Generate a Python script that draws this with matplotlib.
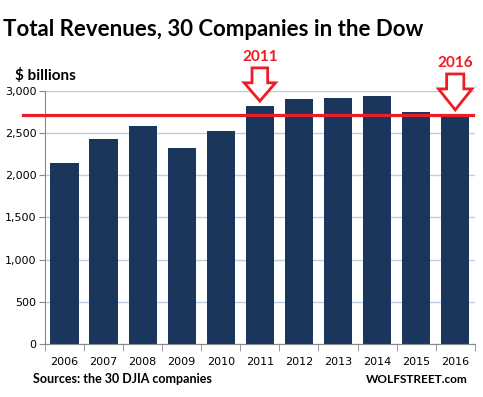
import matplotlib
matplotlib.use("Agg")
from matplotlib import pyplot as plt
from matplotlib.patches import Polygon
import matplotlib.transforms as mtransforms

years = ['2006', '2007', '2008', '2009', '2010', '2011', '2012', '2013', '2014', '2015', '2016']
revenues = [2147, 2425, 2585, 2325, 2527, 2820, 2905, 2918, 2942, 2752, 2700]
level_2016 = 2710
marked = ['2011', '2016']

bar_color = '#1b365d'
red = '#ee1c25'
plt.rcParams['font.family'] = ['Lato', 'DejaVu Sans']

fig = plt.figure(figsize=(4.83, 3.97), dpi=100)
ax = fig.add_axes([0.093, 0.1335, 0.89, 0.6375])

x = list(range(len(years)))
ax.bar(x, revenues, width=0.72, color=bar_color, zorder=2)
ax.set_xlim(-0.5, len(years) - 0.5)
ax.set_ylim(0, 3000)
ax.set_yticks(range(0, 3001, 500))
ax.set_yticklabels([f'{v:,}' for v in range(0, 3001, 500)], fontsize=8, family='DejaVu Sans')
ax.set_xticks(x)
ax.set_xticklabels(years, fontsize=8, family='DejaVu Sans')
ax.set_xticks([i + 0.5 for i in range(-1, len(years))], minor=True)
ax.tick_params(axis='x', which='major', length=0, pad=9)
ax.tick_params(axis='x', which='minor', length=5, color='#888888')
ax.tick_params(axis='y', length=4, color='#888888', pad=2)
ax.yaxis.grid(True, color='#b9cde5', lw=1, zorder=0)
for s in ['top', 'right']:
    ax.spines[s].set_visible(False)
ax.spines['left'].set_color('#888888')
ax.spines['bottom'].set_color('#888888')

# red level line, sticks out past the y axis
ax.plot([-1.06, 10.45], [level_2016, level_2016], color=red, lw=2.3, clip_on=False, zorder=4)

# hollow arrows over 2011 and 2016
trans = mtransforms.blended_transform_factory(ax.transData, ax.transAxes)
arrows = {'2011': (0.960, 1.032, 1.091, 0.20, 0.40, 1.134),
          '2016': (0.925, 1.008, 1.067, 0.22, 0.43, 1.110)}
for yr in marked:
    tip, neck, top, sw, hw, ty = arrows[yr]
    cx = years.index(yr)
    pts = [(cx, tip), (cx - hw, neck), (cx - sw, neck), (cx - sw, top),
           (cx + sw, top), (cx + sw, neck), (cx + hw, neck)]
    ax.add_patch(Polygon(pts, closed=True, transform=trans, facecolor='white',
                         edgecolor=red, lw=2, clip_on=False, zorder=5))
    ax.text(cx, ty, yr, transform=trans, color=red, fontsize=11, fontweight='bold',
            ha='center', va='center')

fig.text(0.006, 0.925, 'Total Revenues, 30 Companies in the Dow', fontsize=16,
         fontweight='bold', ha='left', va='center')
fig.text(0.031, 0.811, '$ billions', fontsize=11, fontweight='bold', ha='left', va='center')
fig.text(0.068, 0.045, 'Sources: the 30 DJIA companies', fontsize=9, fontweight='bold',
         ha='left', va='center')
fig.text(0.968, 0.045, 'WOLFSTREET.com', fontsize=8.5, fontweight='bold', ha='right', va='center')

fig.savefig('out.png', dpi=100)
